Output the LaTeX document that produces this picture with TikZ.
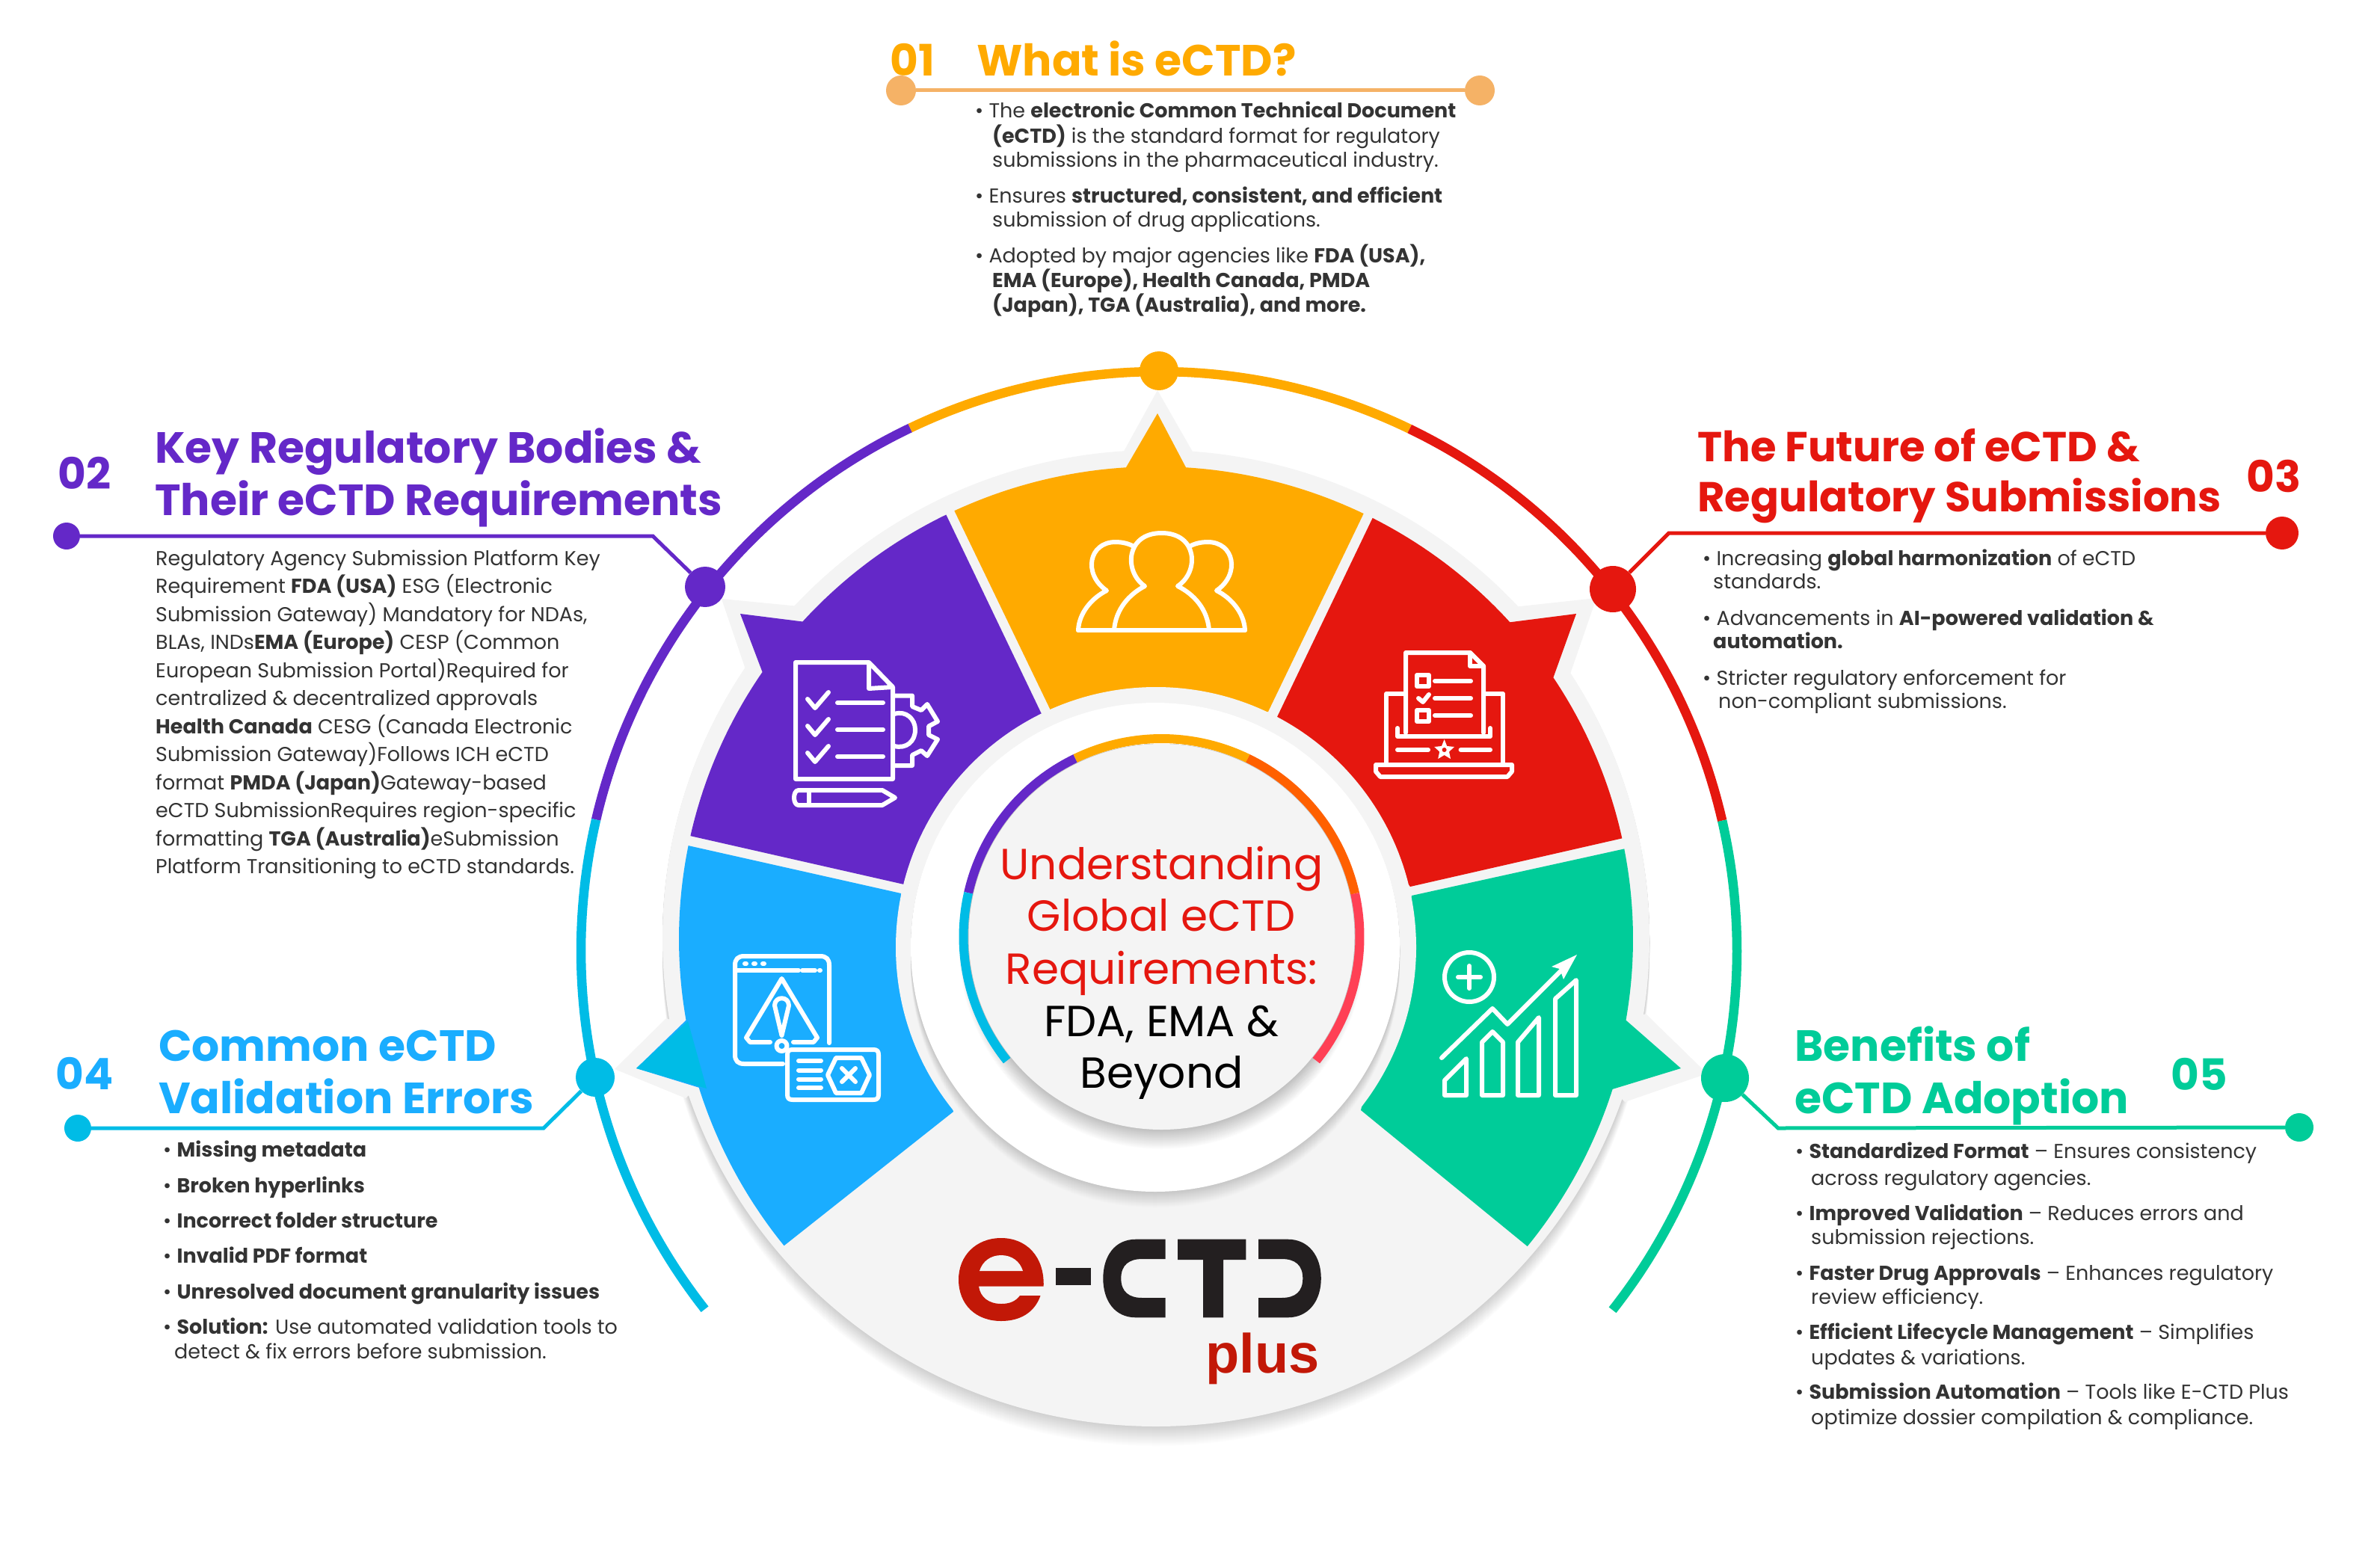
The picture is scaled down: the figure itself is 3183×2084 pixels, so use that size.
\documentclass[tikz,border=0pt]{standalone}
\usepackage{fontspec}
\setmainfont{Poppins}
\newfontfamily\logofont{Liberation Sans}
\definecolor{cgray}{HTML}{F4F4F4}
\definecolor{corange}{HTML}{FFAA00}
\definecolor{cpurple}{HTML}{6428C8}
\definecolor{cred}{HTML}{E5170F}
\definecolor{cgreen}{HTML}{00CC99}
\definecolor{cblue}{HTML}{1AADFF}
\definecolor{ccyan}{HTML}{00BCE6}
\definecolor{cpeach}{HTML}{F5B266}
\definecolor{cburnt}{HTML}{FF6000}
\definecolor{cpink}{HTML}{FF4055}
\definecolor{ctext}{HTML}{333333}
\definecolor{clogored}{HTML}{C21807}
\definecolor{clogodark}{HTML}{231F20}
\def\earc#1#2{plot[domain=#1:#2,samples=40] ({1546+638*cos(\x)},{1256+632*sin(\x)})}
\def\earcto#1#2{-- plot[domain=#1:#2,samples=40] ({1546+638*cos(\x)},{1256+632*sin(\x)})}
\def\larc#1#2{plot[domain=#1:#2,samples=40] ({1546+641*cos(\x)},{1262+641*sin(\x)})}
\def\larcto#1#2{-- plot[domain=#1:#2,samples=40] ({1546+641*cos(\x)},{1262+641*sin(\x)})}
\def\oring#1#2{plot[domain=#1:#2,samples=60] ({1550+773*cos(\x)},{1272+775*sin(\x)})}
\def\iring#1#2{plot[domain=#1:#2,samples=40] ({1553.5+265*cos(\x)},{1253+265*sin(\x)})}
\tikzset{
  body/.style={anchor=base west,inner sep=0pt,text=ctext,font=\fontsize{27}{30}\selectfont},
  head/.style={anchor=base west,inner sep=0pt,font=\bfseries\fontsize{58.4}{60}\selectfont},
  headsm/.style={anchor=base west,inner sep=0pt,font=\bfseries\fontsize{56}{60}\selectfont},
  num/.style={anchor=base west,inner sep=0pt,font=\bfseries\fontsize{58}{60}\selectfont},
  core/.style={anchor=base,inner sep=0pt,font=\fontsize{58.2}{62}\selectfont},
  dot/.style={circle,inner sep=0pt,draw=none},
  leader/.style={line width=5pt,line join=miter},
  icon/.style={draw=white,line width=6pt,line join=round,line cap=round},
}
\begin{document}
\begin{tikzpicture}[x=1pt,y=-1pt]
\useasboundingbox (0,0) rectangle (3183,2084);
\fill[white] (0,0) rectangle (3183,2084);
% wheel shadow
\foreach \i in {26,...,1}{
  \pgfmathsetmacro\p{18*(27-\i)/26}
  \fill[black!\p!white] (1546,{1255+\i}) ellipse [x radius=660pt,y radius=653pt];
}
\fill[cgray] (1546,1255) ellipse [x radius=660pt,y radius=653pt];
% grey spikes
\fill[cgray] (1494,620) -- (1548,522) -- (1604,620) -- cycle;
\fill[cgray] (1068,811) -- (965,801) -- (998,898) -- (1100,900) -- cycle;
\fill[cgray] (2024,812) -- (2135,800) -- (2098,907) -- (2000,900) -- cycle;
\fill[cgray] (2201,1356) -- (2283,1436) -- (2173,1474) -- (2100,1400) -- cycle;
\fill[cgray] (891,1362) -- (822,1430) -- (917,1469) -- (990,1400) -- cycle;
% sectors
\fill[corange] \earc{245}{266.4} -- (1548,553) \earcto{273.6}{295.8} -- (1696,952) -- (1405,950) -- cycle;
\fill[cpurple] \earc{192.6}{214.4} -- (990,821) \earcto{222.2}{243.9} -- (1393,955) -- (1209,1183) -- cycle;
\fill[cred] \earc{297}{317.9} -- (2108,821) \earcto{326.4}{347.7} -- (1886,1186) -- (1708,959) -- cycle;
\fill[cgreen] \earc{-11}{9.9} -- (2248,1429) \larcto{17.7}{39.2} -- (1820,1485) -- (1888,1198) -- cycle;
\fill[cblue] \larc{140.9}{162.5} -- (851,1429) \earcto{170.1}{191.4} -- (1205,1195) -- (1275,1487) -- cycle;
\fill[ccyan] (851,1429) -- (920,1366) -- (945,1456) -- cycle;
% central discs
\fill[cgray] (1546,1267) circle [radius=348pt];
\foreach \i in {21,...,1}{
  \pgfmathsetmacro\p{18*(22-\i)/21}
  \fill[black!\p!cgray] (1545,{1267+\i}) circle [radius=327pt];
}
\fill[white] (1545,1267) circle [radius=327pt];
\foreach \i in {26,...,1}{
  \pgfmathsetmacro\p{24*(27-\i)/26}
  \fill[black!\p!white] (1553.5,{1253+0.5*\i}) circle [radius={(258+0.5*\i)*1pt}];
}
\fill[cgray] (1553.5,1253) circle [radius=258pt];
% inner ring
\draw[cpurple,line width=12pt] \iring{192.8}{244.2};
\draw[corange,line width=12pt] \iring{244.2}{295.8};
\draw[cburnt,line width=12pt] \iring{295.8}{347.4};
\draw[cpink,line width=12pt] \iring{347.4}{398.7};
\draw[ccyan,line width=12pt] \iring{141.3}{192.8};
% outer ring
\draw[cpurple,line width=12.5pt] \oring{193.1}{244.5};
\draw[corange,line width=12.5pt] \oring{244.5}{295.7};
\draw[cred,line width=12.5pt] \oring{295.7}{347};
\draw[cgreen,line width=12.5pt] \oring{347}{398.3};
\draw[ccyan,line width=12.5pt] \oring{141.8}{193.1};
% ring dots and leaders
\node[dot,fill=corange,minimum size=52pt] (ringA) at (1550,496) {};
\node[dot,fill=cpurple,minimum size=54pt] (ringB) at (943,785) {};
\node[dot,fill=cred,minimum size=62pt] (ringC) at (2157,788) {};
\node[dot,fill=ccyan,minimum size=52pt] (ringD) at (796,1441) {};
\node[dot,fill=cgreen,minimum size=64pt] (ringE) at (2307,1442) {};
\node[dot,fill=cpeach,minimum size=40pt] (endA1) at (1205,121) {};
\node[dot,fill=cpeach,minimum size=40pt] (endA2) at (1979,121) {};
\node[dot,fill=cpurple,minimum size=36pt] (endB) at (89,717) {};
\node[dot,fill=cred,minimum size=44pt] (endC) at (3052,713) {};
\node[dot,fill=ccyan,minimum size=36pt] (endD) at (104,1509) {};
\node[dot,fill=cgreen,minimum size=38pt] (endE) at (3075,1508) {};
\coordinate (kneeB) at (873,717);
\coordinate (kneeC) at (2232,713);
\coordinate (kneeD) at (727,1509);
\coordinate (kneeE) at (2378,1509);
\draw[leader,cpeach] (endA1) -- (endA2);
\draw[leader,cpurple] (endB) -- (kneeB) -- (ringB);
\draw[leader,cred] (endC) -- (kneeC) -- (ringC);
\draw[leader,ccyan] (endD) -- (kneeD) -- (ringD);
\draw[leader,cgreen] (endE) -- (kneeE) -- (ringE);
% icon people
\begin{scope}[icon]
\draw (1442,843) -- (1665,843);
\draw (1490,843) .. controls (1492,815) and (1510,795) .. (1531,784) .. controls (1503,765) and (1505,713) .. (1553.5,713) .. controls (1602,713) and (1604,765) .. (1575,784) .. controls (1597,795) and (1615,815) .. (1617,843);
\draw (1442,843) .. controls (1443,820) and (1460,800) .. (1480,790) .. controls (1448,768) and (1456,725) .. (1492,725) .. controls (1500,725) and (1510,727) .. (1516,731);
\draw (1665,843) .. controls (1664,820) and (1647,800) .. (1627,790) .. controls (1659,768) and (1651,725) .. (1615,725) .. controls (1607,725) and (1597,727) .. (1591,731);
\end{scope}
% icon checklist + gear
\begin{scope}[icon]
\draw (1194,919) -- (1162,886) -- (1064,886) -- (1064,1042) -- (1194,1042) -- (1194,919) -- (1162,921) -- (1162,886);
\draw (1080,935) -- (1090,947) -- (1108,926);
\draw (1120,940) -- (1181,940);
\draw (1080,971) -- (1090,983) -- (1108,962);
\draw (1120,976) -- (1181,976);
\draw (1080,1007) -- (1090,1019) -- (1108,998);
\draw (1120,1012) -- (1181,1012);
\draw (1068,1057) -- (1180,1057) -- (1197,1067) -- (1180,1077) -- (1068,1077) .. controls (1060,1077) and (1060,1057) .. (1068,1057);
\draw (1082,1057) -- (1082,1077);
\draw (1196,930.5) -- (1220,930.5) -- (1220,945) -- (1232,950) -- (1240,942) -- (1254,965) -- (1242,971.5) -- (1242,983) -- (1254,989) -- (1240,1011) -- (1232,1004) -- (1220,1010) -- (1220,1024) -- (1196,1024);
\draw (1196,955) .. controls (1212,950) and (1224,962) .. (1224,976) .. controls (1224,992) and (1212,1002) .. (1196,998);
\end{scope}
% icon laptop doc
\begin{scope}[icon]
\draw (1880,980) -- (1880,873) -- (1966,873) -- (1984,891) -- (1984,980);
\draw (1966,873) -- (1966,891) -- (1984,891);
\draw (1895,903) rectangle (1911,918);
\draw (1895,950) rectangle (1911,965);
\draw (1897,934) -- (1903,939) -- (1911,929);
\draw (1919,911) -- (1967,911);
\draw (1919,934) -- (1967,934);
\draw (1919,957) -- (1967,957);
\draw (1877,928) -- (1854,928) -- (1854,1023);
\draw (1987,928) -- (2010,928) -- (2010,1023);
\draw (1869,974) -- (1869,985) -- (1993,985) -- (1993,974);
\draw (1869,1003) -- (1910,1003);
\draw (1953.6,1003) -- (1993,1003);
\draw (1840,1023) -- (2022,1023) -- (2022,1032) -- (2016,1039) -- (1846,1039) -- (1840,1032) -- cycle;
\end{scope}
\fill[white] (1931.6,989) -- (1935.2,998) -- (1945,999) -- (1938,1005.5) -- (1940,1015) -- (1931.6,1010) -- (1923.2,1015) -- (1925.2,1005.5) -- (1918.2,999) -- (1928,998) -- cycle;
\fill[cred] (1931.6,1003) circle [radius=3pt];
% icon chart
\begin{scope}[icon]
\draw (1965,1307) circle [radius=33pt];
\draw (1950,1307) -- (1980,1307);
\draw (1965,1292) -- (1965,1322);
\draw (1928,1415) -- (1996,1349) -- (2016,1370) -- (2088,1298);
\draw (1932,1465) -- (1932,1445) -- (1961,1416) -- (1961,1465) -- cycle;
\draw (1982,1465) -- (1982,1394) -- (1996,1380) -- (2010,1394) -- (2010,1465) -- cycle;
\draw (2030,1465) -- (2030,1394) -- (2058,1361) -- (2058,1465) -- cycle;
\draw (2080,1465) -- (2080,1336) -- (2108,1311) -- (2108,1465) -- cycle;
\end{scope}
\fill[white] (2109,1277) -- (2075,1293) -- (2086,1296) -- (2091,1310) -- cycle;
% icon warning window
\begin{scope}[icon]
\draw (1047,1423) -- (995,1423) .. controls (987,1423) and (983,1419) .. (983,1411) -- (983,1291) .. controls (983,1283) and (987,1279) .. (995,1279) -- (1097,1279) .. controls (1105,1279) and (1109,1283) .. (1109,1291) -- (1109,1395);
\draw (983,1298) -- (1068,1298);
\draw (1073,1298) -- (1090,1298);
\draw (1096,1298) -- (1097,1298);
\draw (996,1289) -- (998,1289);
\draw (1008,1289) -- (1010,1289);
\draw (1020,1289) -- (1022,1289);
\draw (1030,1394) -- (1003,1394) -- (998,1388) -- (1045.5,1309) -- (1093,1388) -- (1088,1394) -- (1061,1394);
\draw (1045.5,1385) -- (1036,1345) .. controls (1036,1332) and (1055,1332) .. (1055,1345) -- cycle;
\draw (1045.5,1399) circle [radius=7pt];
\draw (1060,1404) -- (1168,1404) .. controls (1173,1404) and (1175,1406) .. (1175,1411) -- (1175,1464) .. controls (1175,1469) and (1173,1471) .. (1168,1471) -- (1060,1471) .. controls (1055,1471) and (1053,1469) .. (1053,1464) -- (1053,1411) .. controls (1053,1406) and (1055,1404) .. (1060,1404) -- cycle;
\draw (1068,1419) -- (1098,1419);
\draw (1068,1431.5) -- (1098,1431.5);
\draw (1068,1443.5) -- (1098,1443.5);
\draw (1068,1455) -- (1098,1455);
\draw (1107,1438) -- (1118,1415) -- (1152,1415) -- (1163,1438) -- (1152,1462) -- (1118,1462) -- cycle;
\draw (1126,1429) -- (1144,1447);
\draw (1144,1429) -- (1126,1447);
\end{scope}
% logo
\fill[clogored] (1395.7,1720.7) .. controls (1397,1680) and (1372,1656) .. (1339,1656) .. controls (1305,1656) and (1282,1680) .. (1282,1711.5) .. controls (1282,1745) and (1305,1767) .. (1339,1767) .. controls (1365,1767) and (1384,1755) .. (1391.5,1733) -- (1364,1733) .. controls (1358,1741) and (1350,1744) .. (1339,1744) .. controls (1322,1744) and (1311,1735) .. (1309,1720.7) -- cycle;
\fill[cgray] (1310,1700) .. controls (1314,1687) and (1325,1679) .. (1339,1679) .. controls (1353,1679) and (1364,1687) .. (1368,1700) -- cycle;
\fill[clogodark] (1411.5,1696) rectangle (1459,1719);
\fill[clogodark] (1558.6,1657.7) -- (1519,1657.7) .. controls (1491,1657.7) and (1475.3,1680) .. (1475.3,1710) .. controls (1475.3,1740) and (1491,1762.3) .. (1519,1762.3) -- (1558.6,1762.3) -- (1558.6,1736) -- (1527.5,1736) .. controls (1510,1736) and (1499.3,1728) .. (1499.3,1710) .. controls (1499.3,1692) and (1510,1684) .. (1527.5,1684) -- (1558.6,1684) -- cycle;
\fill[clogodark] (1575,1657.7) -- (1666.4,1657.7) -- (1666.4,1685) -- (1636,1685) -- (1636,1762.3) -- (1609,1762.3) -- (1609,1685) -- (1575,1685) -- cycle;
\fill[clogodark] (1683,1657.7) -- (1722.4,1657.7) .. controls (1750,1657.7) and (1766.8,1680) .. (1766.8,1710) .. controls (1766.8,1740) and (1750,1762.3) .. (1722.4,1762.3) -- (1683,1762.3) -- (1683,1736) -- (1714,1736) .. controls (1732,1736) and (1742.3,1728) .. (1742.3,1710) .. controls (1742.3,1692) and (1732,1684) .. (1714,1684) -- (1683,1684) -- cycle;
\node[anchor=base west,inner sep=0pt,text=clogored,font=\logofont\bfseries\fontsize{74}{76}\selectfont] (logoplus) at (1612,1836) {plus};
% core text
\node[core,text=cred] (c1) at (1553.5,1176) {Understanding};
\node[core,text=cred] (c2) at (1553.5,1245) {Global eCTD};
\node[core,text=cred] (c3) at (1553.5,1316) {Requirements:};
\node[core,text=black] (c4) at (1553.5,1386) {FDA, EMA \&};
\node[core,text=black] (c5) at (1553.5,1455) {Beyond};
% 01
\node[num,text=corange] (n1) at (1190,102) {01};
\node[head,text=corange] (h1) at (1306,102) {What is eCTD?};
\node[body] (a1) at (1304,158) {• The \textbf{electronic Common Technical Document}};
\node[body] (a2) at (1327,192) {\textbf{(eCTD)} is the standard format for regulatory};
\node[body] (a3) at (1327,224) {submissions in the pharmaceutical industry.};
\node[body] (a4) at (1304,272) {• Ensures \textbf{structured, consistent, and efficient}};
\node[body] (a5) at (1327,304) {submission of drug applications.};
\node[body] (a6) at (1304,352) {• Adopted by major agencies like \textbf{FDA (USA),}};
\node[body] (a7) at (1327,384) {\textbf{EMA (Europe), Health Canada, PMDA}};
\node[body] (a8) at (1327,417) {\textbf{(Japan), TGA (Australia), and more.}};
% 02
\node[num,text=cpurple] (n2) at (77,654) {02};
\node[head,text=cpurple] (h2a) at (207,619) {Key Regulatory Bodies \&};
\node[head,text=cpurple] (h2b) at (207,689) {Their eCTD Requirements};
\node[body] (b1) at (208,756) {Regulatory Agency Submission Platform Key};
\node[body] (b2) at (208,793.5) {Requirement \textbf{FDA (USA)} ESG (Electronic};
\node[body] (b3) at (208,831) {Submission Gateway) Mandatory for NDAs,};
\node[body] (b4) at (208,868.5) {BLAs, INDs\textbf{EMA (Europe)} CESP (Common};
\node[body] (b5) at (208,906) {European Submission Portal)Required for};
\node[body] (b6) at (208,943.5) {centralized \& decentralized approvals};
\node[body] (b7) at (208,981) {\textbf{Health Canada} CESG (Canada Electronic};
\node[body] (b8) at (208,1018.5) {Submission Gateway)Follows ICH eCTD};
\node[body] (b9) at (208,1056) {format \textbf{PMDA (Japan)}Gateway-based};
\node[body] (b10) at (208,1093.5) {eCTD SubmissionRequires region-specific};
\node[body] (b11) at (208,1131) {formatting \textbf{TGA (Australia)}eSubmission};
\node[body] (b12) at (208,1168.5) {Platform Transitioning to eCTD standards.};
% 03
\node[num,text=cred] (n3) at (3004,658) {03};
\node[headsm,text=cred] (h3a) at (2270,617.5) {The Future of eCTD \&};
\node[headsm,text=cred] (h3b) at (2270,684) {Regulatory Submissions};
\node[body] (d1) at (2277,756) {• Increasing \textbf{global harmonization} of eCTD};
\node[body] (d2) at (2291,787) {standards.};
\node[body] (d3) at (2277,836) {• Advancements in \textbf{AI-powered validation \&}};
\node[body] (d4) at (2291,867) {\textbf{automation.}};
\node[body] (d5) at (2277,916) {• Stricter regulatory enforcement for};
\node[body] (d6) at (2298,947) {non-compliant submissions.};
% 04
\node[num,text=cblue] (n4) at (74,1457) {04};
\node[head,text=cblue] (h4a) at (212,1419) {Common eCTD};
\node[head,text=cblue] (h4b) at (212,1489) {Validation Errors};
\node[body] (e1) at (218,1547) {• \textbf{Missing metadata}};
\node[body] (e2) at (218,1595) {• \textbf{Broken hyperlinks}};
\node[body] (e3) at (218,1642) {• \textbf{Incorrect folder structure}};
\node[body] (e4) at (218,1689) {• \textbf{Invalid PDF format}};
\node[body] (e5) at (218,1737) {• \textbf{Unresolved document granularity issues}};
\node[body] (e6) at (218,1784) {• \textbf{Solution:} Use automated validation tools to};
\node[body] (e7) at (233,1817) {detect \& fix errors before submission.};
% 05
\node[num,text=cgreen] (n5) at (2903,1458.5) {05};
\node[head,text=cgreen] (h5a) at (2400,1419) {Benefits of};
\node[head,text=cgreen] (h5b) at (2400,1489) {eCTD Adoption};
\node[body] (f1) at (2401,1549) {• \textbf{Standardized Format} – Ensures consistency};
\node[body] (f2) at (2422,1585) {across regulatory agencies.};
\node[body] (f3) at (2401,1632) {• \textbf{Improved Validation} – Reduces errors and};
\node[body] (f4) at (2422,1664.5) {submission rejections.};
\node[body] (f5) at (2401,1712) {• \textbf{Faster Drug Approvals} – Enhances regulatory};
\node[body] (f6) at (2422,1744.5) {review efficiency.};
\node[body] (f7) at (2401,1791.6) {• \textbf{Efficient Lifecycle Management} – Simplifies};
\node[body] (f8) at (2422,1825) {updates \& variations.};
\node[body] (f9) at (2401,1871) {• \textbf{Submission Automation} – Tools like E-CTD Plus};
\node[body] (f10) at (2422,1905) {optimize dossier compilation \& compliance.};
\end{tikzpicture}
\end{document}
